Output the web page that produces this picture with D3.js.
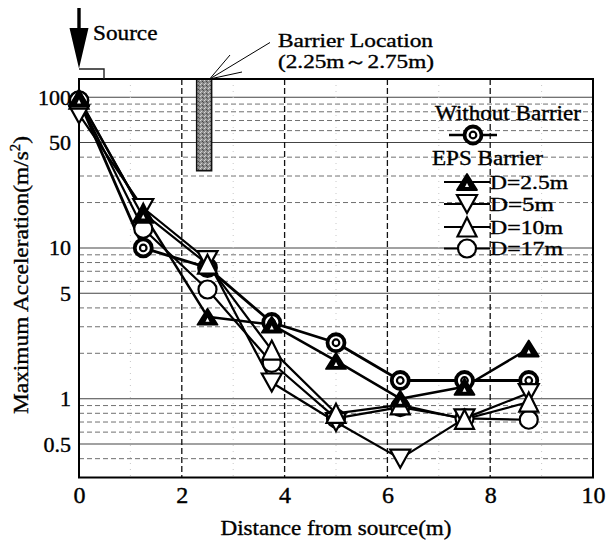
<!DOCTYPE html>
<html><head><meta charset="utf-8">
<script src="https://cdn.jsdelivr.net/npm/d3@7"></script>
<style>
html,body{margin:0;padding:0;background:#fff;}
svg{display:block;font-family:"Liberation Serif","Times New Roman",serif;}
</style>
</head><body><svg id="c" width="609" height="540"></svg>
<script>
// ---- data ----
const distances = [0, 1.25, 2.5, 3.75, 5, 6.25, 7.5, 8.75];
const withoutBarrier = [95, 10, 7.4, 3.2, 2.35, 1.32, 1.32, 1.32];
const eps25 = [98, 16.9, 3.5, 3.1, 1.78, 1.0, 1.2, 2.15];
const eps5 = [77, 18.4, 8.3, 1.28, 0.70, 0.40, 0.74, 1.09];
const eps10 = [97, 17, 7.8, 2.1, 0.80, 0.91, 0.73, 0.95];
const eps17 = [95, 13.4, 5.3, 1.73, 0.74, 0.88, 0.74, 0.725];
const legendNames = ["Without Barrier", "D=2.5m", "D=5m", "D=10m", "D=17m"];
const xTicks = [0, 2, 4, 6, 8, 10];
const yTicks = [0.5, 1, 5, 10, 50, 100];
const yTickLabels = ["0.5", "1", "5", "10", "50", "100"];
const barrierRange = [2.25, 2.75];

const svg = d3.select("#c");
const x = d3.scaleLinear().domain([0, 10]).range([79, 593]);
const y = d3.scaleLog().domain([0.3, 132]).range([477.5, 79]);
const font = "'Liberation Serif','Times New Roman',serif";

// ---- grid ----
const grid = svg.append("g");
const minor = [];
[0.1, 1, 10, 100].forEach(dec => { for (let k = 1; k <= 9; k++) { const v = +(k * dec).toPrecision(3); if (v > 0.3 && v < 132 && !yTicks.includes(v)) minor.push(v); } });
grid.selectAll(".hm").data(minor).join("line")
  .attr("x1", x(0)).attr("x2", x(10)).attr("y1", d => y(d)).attr("y2", d => y(d))
  .attr("stroke", "#707070").attr("stroke-width", 1).attr("stroke-dasharray", "5,3");
grid.selectAll(".hs").data(yTicks).join("line")
  .attr("x1", x(0)).attr("x2", x(10)).attr("y1", d => y(d)).attr("y2", d => y(d))
  .attr("stroke", "#444").attr("stroke-width", 1.1);
grid.selectAll(".vo").data([1, 3, 5, 7, 9]).join("line")
  .attr("x1", d => x(d)).attr("x2", d => x(d)).attr("y1", y(132)).attr("y2", y(0.3))
  .attr("stroke", "#c8c8c8").attr("stroke-width", 1).attr("stroke-dasharray", "1,5");
grid.selectAll(".vm").data([2, 4, 6, 8]).join("line")
  .attr("x1", d => x(d)).attr("x2", d => x(d)).attr("y1", y(132)).attr("y2", y(0.3))
  .attr("stroke", "#111").attr("stroke-width", 1.3).attr("stroke-dasharray", "6,3");

// ---- barrier ----
const defs = svg.append("defs");
const pat = defs.append("pattern").attr("id", "stip").attr("width", 4).attr("height", 4).attr("patternUnits", "userSpaceOnUse");
pat.append("rect").attr("width", 4).attr("height", 4).attr("fill", "#8e8e8e");
pat.append("rect").attr("x", 0).attr("y", 0).attr("width", 1).attr("height", 1).attr("fill", "#d8d8d8");
pat.append("rect").attr("x", 2).attr("y", 1).attr("width", 1).attr("height", 1).attr("fill", "#444");
pat.append("rect").attr("x", 1).attr("y", 3).attr("width", 1).attr("height", 1).attr("fill", "#cfcfcf");
pat.append("rect").attr("x", 3).attr("y", 2).attr("width", 1).attr("height", 1).attr("fill", "#555");
svg.append("rect").attr("x", x(barrierRange[0]) + 2).attr("y", y(132))
  .attr("width", 15).attr("height", y(32.5) - y(132))
  .attr("fill", "url(#stip)").attr("stroke", "#111").attr("stroke-width", 1.5);

// ---- frame ----
svg.append("rect").attr("x", x(0)).attr("y", y(132)).attr("width", x(10) - x(0)).attr("height", y(0.3) - y(132))
  .attr("fill", "none").attr("stroke", "#000").attr("stroke-width", 2);

// ---- axes ----
const ax = svg.append("g").attr("transform", `translate(${x(0)},0)`)
  .call(d3.axisLeft(y).tickValues(yTicks).tickFormat((d, i) => yTickLabels[i]).tickSize(0).tickPadding(8));
ax.select(".domain").remove();
ax.selectAll("text").attr("font-family", font).attr("font-size", 22).attr("fill", "#000")
  .attr("stroke", "#000").attr("stroke-width", 0.4);
const bx = svg.append("g").attr("transform", `translate(0,${y(0.3)})`)
  .call(d3.axisBottom(x).tickValues(xTicks).tickFormat(d3.format("d")).tickSize(0).tickPadding(8.5));
bx.select(".domain").remove();
bx.selectAll("text").attr("font-family", font).attr("font-size", 24).attr("fill", "#000")
  .attr("stroke", "#000").attr("stroke-width", 0.4);

function txt(s, tx, ty, size, len, anchor) {
  const t = svg.append("text").attr("x", tx).attr("y", ty).attr("font-size", size)
    .attr("text-anchor", anchor || "start").attr("fill", "#000")
    .attr("stroke", "#000").attr("stroke-width", 0.35).text(s);
  if (len) t.attr("textLength", len).attr("lengthAdjust", "spacingAndGlyphs");
  return t;
}
txt("Distance from source(m)", (x(0) + x(10)) / 2, 534.5, 21, 231, "middle");
const yl = svg.append("text").attr("transform", "translate(28,275) rotate(-90)")
  .attr("text-anchor", "middle").attr("font-size", 22).attr("stroke", "#000").attr("stroke-width", 0.35)
  .attr("textLength", 278).attr("lengthAdjust", "spacingAndGlyphs");
yl.append("tspan").text("Maximum Acceleration(m/s");
yl.append("tspan").attr("font-size", 14).attr("dy", -8).text("2");
yl.append("tspan").attr("dy", 8).text(")");

// ---- annotations ----
svg.append("path").attr("d", "M77.3,8 L80.7,8 L80.7,28 L88.5,28 L79,68.5 L69.5,28 L77.3,28 Z").attr("fill", "#000");
svg.append("path").attr("d", "M79,69 L104,69 L104,79").attr("fill", "none").attr("stroke", "#222").attr("stroke-width", 1.4);
txt("Source", 93, 39.5, 21, 64.5);
const bx0 = x(barrierRange[0]) + 15, by0 = y(132);
[[270, 42.5], [230, 55], [242, 72]].forEach(p => {
  svg.append("line").attr("x1", bx0).attr("y1", by0).attr("x2", p[0]).attr("y2", p[1]).attr("stroke", "#000").attr("stroke-width", 1);
});
txt("Barrier Location", 278, 46.5, 19, 155);
txt("(" + barrierRange[0] + "m～" + barrierRange[1] + "m)", 278, 68, 19, 156);

// ---- markers ----
function triUp(g, cx, cy, w, h) {
  return g.append("path").attr("d", `M${cx},${cy - h / 2} L${cx + w / 2},${cy + h / 2} L${cx - w / 2},${cy + h / 2} Z`);
}
function triDown(g, cx, cy, w, h) {
  return g.append("path").attr("d", `M${cx - w / 2},${cy - h / 2} L${cx + w / 2},${cy - h / 2} L${cx},${cy + h / 2} Z`);
}
const markers = {
  without(g, cx, cy) {
    g.append("circle").attr("cx", cx).attr("cy", cy).attr("r", 8.5).attr("fill", "#fff").attr("stroke", "#000").attr("stroke-width", 3.8);
    g.append("circle").attr("cx", cx).attr("cy", cy).attr("r", 3.3).attr("fill", "#fff").attr("stroke", "#000").attr("stroke-width", 2.2);
  },
  d25(g, cx, cy) {
    triUp(g, cx, cy, 20, 16).attr("fill", "#000").attr("stroke", "#000").attr("stroke-width", 1.8).attr("stroke-linejoin", "round");
    triUp(g, cx, cy + 3, 4, 4).attr("fill", "#fff");
  },
  d5(g, cx, cy) {
    triDown(g, cx, cy, 20, 18).attr("fill", "#fff").attr("stroke", "#000").attr("stroke-width", 2.2);
  },
  d10(g, cx, cy) {
    triUp(g, cx, cy, 19, 19).attr("fill", "#fff").attr("stroke", "#000").attr("stroke-width", 2.2);
  },
  d17(g, cx, cy) {
    g.append("circle").attr("cx", cx).attr("cy", cy).attr("r", 9).attr("fill", "#fff").attr("stroke", "#000").attr("stroke-width", 2.2);
  }
};

const series = [
  { key: "without", vals: withoutBarrier, lw: 2.8 },
  { key: "d17", vals: eps17, lw: 2.2 },
  { key: "d5", vals: eps5, lw: 2.2 },
  { key: "d10", vals: eps10, lw: 2.2 },
  { key: "d25", vals: eps25, lw: 2.5 }
];
const line = d3.line().x(d => x(d[0])).y(d => y(d[1]));
const lg = svg.append("g");
series.forEach(s => {
  lg.append("path").attr("d", line(distances.map((d, i) => [d, s.vals[i]])))
    .attr("fill", "none").attr("stroke", "#000").attr("stroke-width", s.lw).attr("stroke-linejoin", "round");
});
const mg = svg.append("g");
series.forEach(s => {
  distances.forEach((d, i) => markers[s.key](mg, x(d), y(s.vals[i])));
});

// ---- legend ----
const leg = svg.append("g");
txt(legendNames[0], 435, 119.5, 20, 146);
leg.append("line").attr("x1", 449).attr("x2", 497).attr("y1", 135).attr("y2", 135).attr("stroke", "#000").attr("stroke-width", 2.6);
markers.without(leg, 473, 135);
txt("EPS Barrier", 432, 165, 20, 111);
const entries = [["d25", legendNames[1], 182, 78], ["d5", legendNames[2], 204, 64], ["d10", legendNames[3], 227, 73], ["d17", legendNames[4], 248.5, 73]];
entries.forEach(e => {
  leg.append("line").attr("x1", 444).attr("x2", 490).attr("y1", e[2]).attr("y2", e[2]).attr("stroke", "#000").attr("stroke-width", 2);
  markers[e[0]](leg, 467, e[2]);
  txt(e[1], 490, e[2] + 6.5, 19, e[3]);
});
</script>
</body></html>
